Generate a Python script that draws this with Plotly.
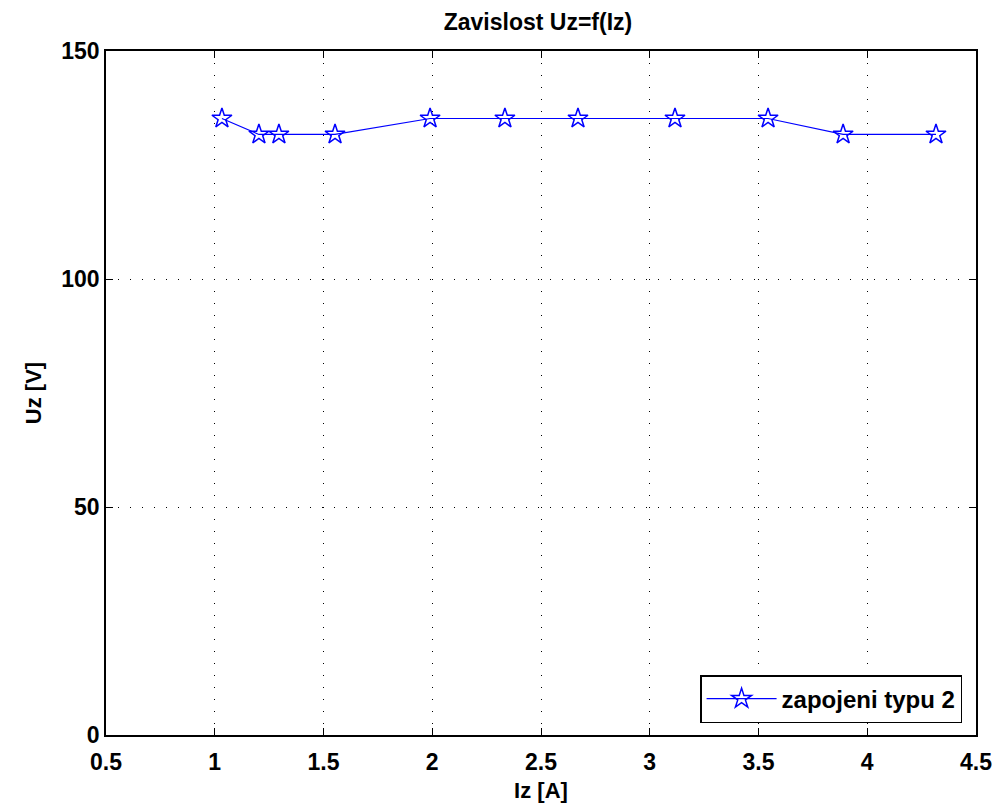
import plotly.graph_objects as go

iz = [1.033, 1.203, 1.295, 1.553, 1.990, 2.334, 2.670, 3.116, 3.544, 3.889, 4.316]
uz = [135.2, 131.7, 131.7, 131.7, 135.2, 135.2, 135.2, 135.2, 135.2, 131.7, 131.7]
x_ticks = [0.5, 1, 1.5, 2, 2.5, 3, 3.5, 4, 4.5]
x_labels = ["0.5", "1", "1.5", "2", "2.5", "3", "3.5", "4", "4.5"]
y_ticks = [0, 50, 100, 150]

font = "Liberation Sans, Arial, sans-serif"

fig = go.Figure()
fig.add_trace(go.Scatter(
    x=iz, y=uz, mode="lines+markers", name="zapojeni typu 2",
    line=dict(color="#0000ff", width=1.2),
    marker=dict(symbol="star-open", size=15, color="#0000ff", line=dict(width=1.5, color="#0000ff")),
))

axis_common = dict(
    showline=True, linecolor="black", linewidth=1.5, mirror="ticks",
    ticks="inside", ticklen=7, tickcolor="black", tickwidth=1,
    showgrid=True, gridcolor="black", griddash="1px,11px", gridwidth=1,
    zeroline=False,
    tickfont=dict(family=font, size=23, color="black", weight="bold"),
)

fig.update_xaxes(range=[0.5, 4.5], tickvals=x_ticks, ticktext=x_labels,
                 ticklabelstandoff=6,
                 title=dict(text="Iz [A]", font=dict(family=font, size=22, color="black", weight="bold"), standoff=8),
                 **axis_common)
fig.update_yaxes(range=[0, 150], tickvals=y_ticks,
                 title=dict(text="Uz [V]", font=dict(family=font, size=22, color="black", weight="bold"), standoff=14),
                 **axis_common)

fig.update_layout(
    width=1000, height=809,
    paper_bgcolor="white", plot_bgcolor="white",
    margin=dict(l=98, r=32, t=43, b=82),
    title=dict(text="Zavislost Uz=f(Iz)", x=0.53, xanchor="center", y=0.983, yanchor="middle",
               font=dict(family=font, size=23, color="black", weight="bold")),
    legend=dict(x=0.984, y=0.0175, xanchor="right", yanchor="bottom",
                bordercolor="black", borderwidth=1.5, bgcolor="white", itemwidth=70,
                font=dict(family=font, size=24, color="black", weight="bold")),
    showlegend=True,
)

fig.write_html("out.html")
